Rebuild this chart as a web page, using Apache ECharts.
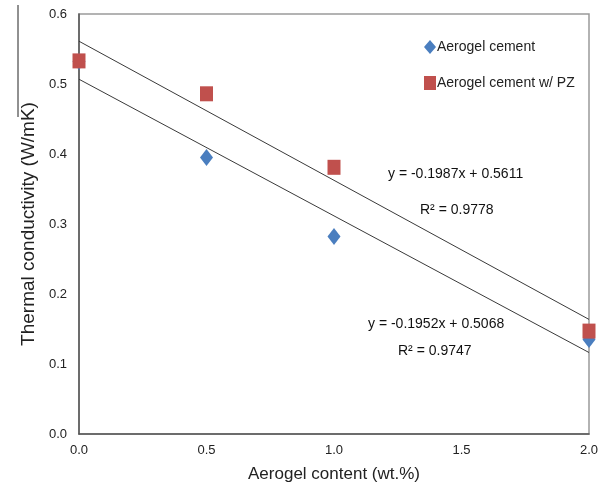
<!DOCTYPE html>
<html>
<head>
<meta charset="utf-8">
<script src="https://cdn.jsdelivr.net/npm/echarts@6/dist/echarts.min.js"></script>
<style>
html,body{margin:0;padding:0;background:#fff;}
#chart{width:608px;height:490px;}
</style>
</head>
<body>
<div id="chart"></div>
<script>
// Data
const xValues = [0, 0.5, 1.0, 2.0];
const aerogelCement = [0.532, 0.395, 0.282, 0.135];
const aerogelCementPZ = [0.533, 0.486, 0.381, 0.147];
// Linear trendline endpoints (x = 0 and x = 2), from the printed equations
const trendCement = [[0, 0.5068], [2, 0.1164]];
const trendCementPZ = [[0, 0.5611], [2, 0.1637]];
const xTicks = [0, 0.5, 1.0, 1.5, 2.0];
const yTicks = [0, 0.1, 0.2, 0.3, 0.4, 0.5, 0.6];
const seriesNames = ['Aerogel cement', 'Aerogel cement w/ PZ'];
const equations = ['y = -0.1987x + 0.5611', 'R\u00b2 = 0.9778', 'y = -0.1952x + 0.5068', 'R\u00b2 = 0.9747'];

const FONT = '"Liberation Sans", Arial, sans-serif';
const chart = echarts.init(document.getElementById('chart'), null, {renderer: 'canvas'});

const pair = (xs, ys) => xs.map((x, i) => [x, ys[i]]);

chart.setOption({
  animation: false,
  backgroundColor: '#fff',
  grid: {left: 79, right: 19, top: 14, bottom: 56, show: true, borderColor: '#9a9a9a', borderWidth: 1.5, backgroundColor: 'transparent'},
  xAxis: {
    type: 'value', min: xTicks[0], max: xTicks[xTicks.length - 1], interval: 0.5,
    name: 'Aerogel content (wt.%)', nameLocation: 'middle', nameGap: 32,
    nameTextStyle: {fontFamily: FONT, fontSize: 17, color: '#222'},
    axisLine: {show: true, lineStyle: {color: '#555', width: 1.5}},
    axisTick: {show: false},
    splitLine: {show: false},
    axisLabel: {fontFamily: FONT, fontSize: 13, color: '#222', margin: 10, formatter: v => v.toFixed(1)}
  },
  yAxis: {
    type: 'value', min: yTicks[0], max: yTicks[yTicks.length - 1], interval: 0.1,
    name: 'Thermal conductivity (W/mK)', nameLocation: 'middle', nameGap: 41, nameRotate: 90,
    nameTextStyle: {fontFamily: FONT, fontSize: 19, color: '#222'},
    axisLine: {show: true, lineStyle: {color: '#555', width: 1.5}},
    axisTick: {show: false},
    splitLine: {show: false},
    axisLabel: {fontFamily: FONT, fontSize: 13, color: '#222', margin: 12, formatter: v => v.toFixed(1)}
  },
  legend: {
    orient: 'vertical', left: 419, top: 35, itemGap: 22, itemWidth: 12, itemHeight: 14,
    data: [
      {name: seriesNames[0], icon: 'diamond'},
      {name: seriesNames[1], icon: 'rect'}
    ],
    textStyle: {fontFamily: FONT, fontSize: 14, color: '#222', padding: [0, 0, 0, -4]}
  },
  series: [
    {name: 'trend1', type: 'line', data: trendCement, symbol: 'none', lineStyle: {color: '#3a3a3a', width: 1}, z: 1, silent: true},
    {name: 'trend2', type: 'line', data: trendCementPZ, symbol: 'none', lineStyle: {color: '#3a3a3a', width: 1}, z: 1, silent: true},
    {name: seriesNames[0], type: 'scatter', data: pair(xValues, aerogelCement), symbol: 'diamond', symbolSize: [13, 17],
     itemStyle: {color: '#4a7ebf', opacity: 1}, clip: false, z: 3},
    {name: seriesNames[1], type: 'scatter', data: pair(xValues, aerogelCementPZ), symbol: 'rect', symbolSize: [13, 15],
     itemStyle: {color: '#c0504d', opacity: 1}, clip: false, z: 4}
  ],
  graphic: [
    {type: 'text', left: 388, top: 167, style: {text: equations[0], font: '14px ' + FONT, fill: '#111'}},
    {type: 'text', left: 420, top: 203, style: {text: equations[1], font: '14px ' + FONT, fill: '#111'}},
    {type: 'text', left: 368, top: 317, style: {text: equations[2], font: '14px ' + FONT, fill: '#111'}},
    {type: 'text', left: 398, top: 344, style: {text: equations[3], font: '14px ' + FONT, fill: '#111'}},
    {type: 'line', shape: {x1: 18, y1: 5, x2: 18, y2: 117}, style: {stroke: '#222', lineWidth: 1}}
  ]
});
</script>
</body>
</html>
